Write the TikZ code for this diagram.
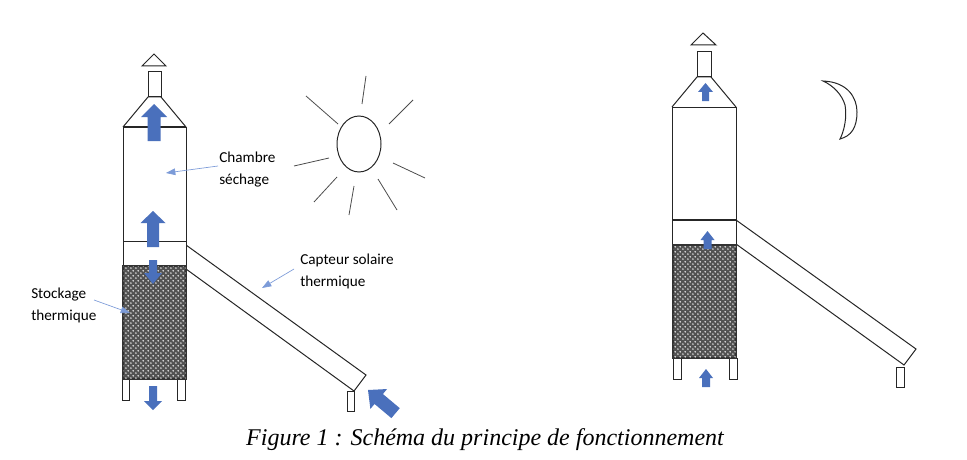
\documentclass[tikz,border=0pt]{standalone}
\usepackage{fontspec}
\setmainfont{Liberation Serif}
\newfontfamily\labelfont{Carlito}
\usetikzlibrary{arrows.meta,patterns}

\pgfdeclarepatternformonly{storedots}{\pgfqpoint{0pt}{0pt}}{\pgfqpoint{3.6pt}{3.6pt}}{\pgfqpoint{3.6pt}{3.6pt}}{
  \pgfpathcircle{\pgfqpoint{0.7pt}{0.7pt}}{0.6pt}
  \pgfpathcircle{\pgfqpoint{2.5pt}{2.5pt}}{0.6pt}
  \pgfusepath{fill}
}

\tikzset{
  wall/.style={draw=black!85, line width=0.75pt, fill=white},
  store/.style={draw=black!80, line width=1.1pt, fill=black!68},
  flow/.style={fill=flowblue, draw=none},
  leader/.style={draw=leaderblue, line width=0.5pt, -{Triangle[length=7pt,width=5pt]}},
  ray/.style={draw=black!70, line width=0.6pt},
  tag/.style={font=\labelfont\fontsize{11.4}{16.5}\selectfont, align=left, anchor=north west, inner sep=0pt}
}
\definecolor{flowblue}{HTML}{4A70BC}
\definecolor{leaderblue}{HTML}{7C9BD8}

% block arrow: tip x, tip y, rotation, length, shaft half width, head half width, head length
\newcommand{\flowarrow}[7]{
  \fill[flow, shift={(#1,#2)}, rotate=#3]
    (0,0) -- (#6,#7) -- (#5,#7) -- (#5,#4) -- (-#5,#4) -- (-#5,#7) -- (-#6,#7) -- cycle;
}

\begin{document}
\begin{tikzpicture}[x=0.75pt,y=-0.75pt]
\useasboundingbox (0,0) rectangle (967,460);

% Left dryer: day
% Collector
\draw[wall] (186,245) -- (366,375) -- (354,391) -- (186,269);
\draw[wall] (347,391) rectangle (354,411);
% Legs
\draw[wall] (122,379) rectangle (129,400);
\draw[wall] (177,379) rectangle (185,400);
% Tower
\draw[wall] (123,127) rectangle (186,266);
\draw[wall] (123,241) -- (186,241);
\draw[store] (123,266) rectangle (186,379);
\fill[pattern=storedots, pattern color=white] (123.5,266.5) rectangle (185.5,378.5);
% Roof and chimney
\draw[wall] (123,127) -- (148,97) -- (161,97) -- (186,127);
\draw[wall, line width=1.1pt] (123,127) -- (186,127);
\draw[wall] (148,72) rectangle (161,97);
\draw[wall] (142,66) -- (154,54) -- (166,66) -- cycle;

% Right dryer: night
% Collector
\draw[wall] (736,220) -- (916,349) -- (904,365) -- (736,244);
\draw[wall] (896,367) rectangle (904,387);
% Legs
\draw[wall] (673,358) rectangle (681,379);
\draw[wall] (729,358) rectangle (737,379);
% Tower
\draw[wall] (672,107) rectangle (736,245);
\draw[wall, line width=1.1pt] (672,220) -- (736,220);
\draw[store] (673,245) rectangle (736,358);
\fill[pattern=storedots, pattern color=white] (673.5,245.5) rectangle (735.5,357.5);
% Roof and chimney
\draw[wall] (672,107) -- (697,77) -- (711,77) -- (736,107);
\draw[wall] (672,107) -- (736,107);
\draw[wall] (697,52) rectangle (711,77);
\draw[wall] (691,45) -- (703,33) -- (716,45) -- cycle;

% Airflow, left
\flowarrow{154}{104}{0}{37}{6.5}{13}{13}
\flowarrow{153}{211}{0}{36}{6}{12.5}{12}
\flowarrow{153}{284}{180}{24}{4}{9}{11}
\flowarrow{153}{410}{180}{24}{4}{9}{9}
\flowarrow{368}{390}{50}{36}{6.5}{13}{14}

% Airflow, right
\flowarrow{705.5}{83}{0}{18}{3.5}{7.5}{9}
\flowarrow{707.5}{231}{0}{18}{4}{7}{9}
\flowarrow{706}{369}{0}{18}{4}{7}{9}

% Sun
\draw[wall, fill=none] (359,144) ellipse (22 and 28);
\foreach \xa/\ya/\xb/\yb in {366/76/362/104, 413/100/389/124, 393/163/425/178, 378/179/397/210,
                             354/186/349/215, 337/177/314/202, 329/158/294/166, 338/124/306/96} {
    \draw[ray] (\xa,\ya) -- (\xb,\yb);
}

% Moon
\draw[wall] (823,81) .. controls (848,82) and (857,98) .. (857,112)
            .. controls (857,128) and (851,136) .. (840,139)
            .. controls (847,125) and (846,110) .. (845,105)
            .. controls (842,95) and (834,86) .. (823,81) -- cycle;

% Labels
\node[tag] (chambre) at (219,152) {Chambre\\séchage};
\node[tag] (capteur) at (300,254) {Capteur solaire\\thermique};
\node[tag] (stockage) at (31,288) {Stockage\\thermique};
\node[inner sep=0pt, font=\itshape\fontsize{18}{20}\selectfont] (legende) at (485,440)
    {Figure 1 : Schéma du principe de fonctionnement};

% Leaders
\coordinate (chambreTip) at (166,173);
\coordinate (capteurTip) at (262,288);
\coordinate (stockageTip) at (130,313);
\draw[leader] (218,166) -- (chambreTip);
\draw[leader] (294,269) -- (capteurTip);
\draw[leader] (94,300) -- (stockageTip);
\end{tikzpicture}
\end{document}
